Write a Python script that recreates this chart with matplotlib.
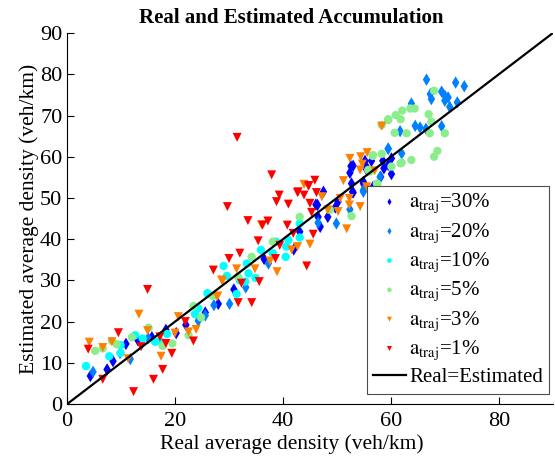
import numpy as np
import matplotlib
matplotlib.use("Agg")
import matplotlib.pyplot as plt

plt.rcParams["font.family"] = ["Liberation Serif", "DejaVu Serif"]
plt.rcParams["mathtext.fontset"] = "stix"

# ---------------------------------------------------------
# Real vs estimated density (veh/km) per trajectory share
# ---------------------------------------------------------
real_30 = [4.3, 7.4, 8.5, 10.9, 13.1, 15.7, 18.3, 20.2, 22.0, 25.6, 28.0, 30.9, 36.5, 43.1,
           42.0, 46.9, 46.5, 48.3, 49.7, 50.2, 46.4, 47.5, 46.1, 52.9, 53.0, 52.7, 54.9, 52.4,
           53.0, 52.6, 55.2, 56.4, 55.4, 58.5, 58.7, 60.1, 58.1, 59.5, 60.1, 56.7, 55.5, 54.9]
est_30 = [6.8, 8.4, 10.4, 14.6, 15.5, 16.2, 18.0, 17.2, 19.2, 22.2, 24.3, 27.8, 35.2, 41.8,
          37.5, 43.0, 45.4, 45.4, 47.7, 49.1, 48.3, 51.5, 48.4, 51.5, 51.3, 53.5, 53.9, 56.1,
          57.8, 57.7, 59.0, 59.0, 57.7, 59.0, 57.2, 55.8, 55.1, 58.0, 59.6, 52.7, 56.9, 53.5]

real_20 = [4.8, 9.8, 11.7, 15.0, 24.3, 25.6, 27.2, 30.1, 33.1, 37.3, 46.5, 49.9, 52.4, 54.9,
           54.9, 58.0, 59.5, 59.5, 62.0, 61.7, 65.4, 64.5, 66.5, 69.4, 63.8, 70.9, 70.0, 70.6,
           69.4, 70.0, 67.3, 67.5, 72.3, 66.6, 72.0, 73.6]
est_20 = [7.8, 12.4, 10.9, 16.0, 20.2, 21.5, 24.0, 24.3, 28.3, 34.1, 44.0, 43.8, 47.2, 51.5,
          51.9, 55.1, 61.9, 62.0, 60.8, 66.2, 67.1, 67.5, 66.8, 67.4, 72.9, 72.1, 73.6, 74.4,
          75.8, 74.8, 75.2, 74.0, 73.2, 78.7, 78.0, 77.1]

real_10 = [3.5, 7.8, 9.9, 9.9, 12.6, 14.0, 16.3, 17.2, 18.5, 23.7, 24.3, 26.1, 26.0, 31.4,
           33.0, 29.0, 29.6, 33.6, 33.3, 34.9, 35.9, 38.1, 38.7, 40.6, 41.0, 40.5, 43.1, 43.1,
           32.0]
est_10 = [9.2, 11.6, 12.4, 14.3, 16.7, 15.9, 15.1, 15.3, 17.0, 21.8, 23.2, 26.7, 26.9, 26.7,
          29.7, 33.5, 31.1, 31.7, 34.1, 30.6, 37.4, 36.6, 39.4, 38.2, 39.8, 35.7, 40.4, 43.8,
          30.0]

real_5 = [5.2, 6.6, 8.3, 9.2, 12.0, 15.1, 17.7, 19.5, 22.5, 23.4, 24.8, 27.0, 31.7, 34.2,
          38.1, 43.1, 48.7, 52.7, 55.8, 56.1, 57.4, 57.5, 56.6, 56.7, 58.3, 60.1, 61.8, 62.0,
          63.8, 68.0, 68.6, 59.5, 60.9, 61.8, 62.1, 63.6, 64.4, 67.0, 67.5, 60.7, 62.9, 67.2,
          70.0, 68.0, 58.3, 59.5]
est_5 = [12.9, 13.5, 15.3, 14.5, 16.2, 18.5, 14.1, 14.7, 16.7, 23.8, 21.0, 26.2, 30.9, 35.7,
         39.4, 45.4, 47.1, 45.6, 56.8, 56.4, 53.5, 53.4, 60.2, 60.4, 60.7, 57.6, 58.4, 58.6,
         59.2, 60.0, 61.4, 69.1, 70.1, 69.1, 71.2, 71.7, 71.7, 70.3, 68.5, 65.8, 65.7, 65.7,
         65.7, 76.0, 67.7, 68.9]

real_3 = [4.1, 6.6, 8.3, 11.3, 13.3, 14.9, 17.4, 20.6, 20.0, 22.5, 23.9, 27.8, 28.8, 27.9,
          28.6, 31.4, 34.8, 37.6, 38.9, 41.6, 42.7, 45.0, 43.9, 47.2, 48.3, 50.2, 51.8, 52.3,
          52.3, 54.3, 50.6, 51.2, 52.4, 54.4, 55.6, 54.7, 54.3, 57.0, 55.5, 58.3, 36.0]
est_3 = [15.0, 13.7, 15.1, 11.0, 21.8, 17.8, 11.6, 21.2, 17.2, 17.5, 18.1, 26.0, 29.9, 26.2,
         30.1, 32.8, 32.8, 34.7, 32.1, 37.4, 38.2, 38.8, 53.3, 50.3, 47.1, 46.7, 42.5, 49.9,
         48.3, 47.9, 49.9, 54.2, 59.6, 60.0, 61.0, 58.2, 56.8, 56.6, 52.7, 67.4, 43.5]

real_1 = [3.9, 6.6, 9.5, 12.3, 13.7, 14.9, 16.0, 17.7, 17.2, 18.3, 19.4, 21.9, 23.4, 27.1,
          31.7, 32.3, 34.2, 35.6, 30.0, 32.0, 29.7, 31.5, 33.5, 35.4, 36.2, 37.2, 37.9, 38.6,
          39.4, 38.8, 39.3, 40.8, 41.0, 41.9, 42.7, 43.9, 44.8, 45.9, 46.2, 45.0, 45.3, 45.6,
          44.4, 44.7, 42.8]
est_1 = [13.3, 6.0, 17.3, 3.0, 13.9, 27.8, 6.0, 8.4, 16.3, 14.7, 12.3, 20.0, 15.3, 32.5,
         24.6, 29.3, 24.6, 29.7, 35.3, 36.6, 47.9, 64.7, 44.5, 39.6, 43.4, 44.4, 55.6, 35.3,
         38.5, 49.1, 50.7, 43.4, 48.5, 41.4, 51.3, 50.7, 53.0, 54.3, 51.3, 48.7, 46.5, 41.2,
         33.5, 52.9, 51.5]

series = [
    (real_30, est_30, "30%", "d", (0.0, 0.0, 1.0), 40),
    (real_20, est_20, "20%", "d", (0.0, 0.5, 1.0), 40),
    (real_10, est_10, "10%", "o", (0.0, 1.0, 1.0), 36),
    (real_5, est_5, "5%", "o", (0.55, 0.93, 0.55), 36),
    (real_3, est_3, "3%", "v", (1.0, 0.5, 0.0), 42),
    (real_1, est_1, "1%", "v", (1.0, 0.0, 0.0), 42),
]

fig = plt.figure(figsize=(5.55, 4.66), dpi=100)
ax = fig.add_axes([0.121, 0.133, 0.875, 0.796])

for xs, ys, pct, mk, col, size in series:
    ax.scatter(xs, ys, s=size, marker=mk, color=col, edgecolors="none",
               label=r"$\mathrm{a_{traj}}$=" + pct)

ax.plot([0, 90], [0, 90], color="black", lw=1.6, label="Real=Estimated")

ax.set_xlim(0, 90)
ax.set_ylim(0, 90)
ax.set_xticks([0, 20, 40, 60, 80])
ax.set_yticks(np.arange(0, 91, 10))
ax.spines["top"].set_visible(False)
ax.spines["right"].set_visible(False)
ax.tick_params(direction="in", length=5, labelsize=16)
ax.tick_params(axis="x", pad=6)

ax.set_xlabel("Real average density (veh/km)", fontsize=15.5, labelpad=2, x=0.463)
ax.set_ylabel("Estimated average density (veh/km)", fontsize=15.5, labelpad=1)
ax.set_title("Real and Estimated Accumulation", fontsize=15, fontweight="bold",
             pad=7, x=0.462)

leg = ax.legend(loc="lower right", bbox_to_anchor=(0.993, 0.028), fontsize=15,
                fancybox=False, edgecolor="0.3", framealpha=1, markerscale=0.55,
                handlelength=1.6, handletextpad=0.15, labelspacing=0.28,
                borderpad=0.3, borderaxespad=0)
leg.get_frame().set_linewidth(0.8)

fig.savefig("out.png", dpi=100)
